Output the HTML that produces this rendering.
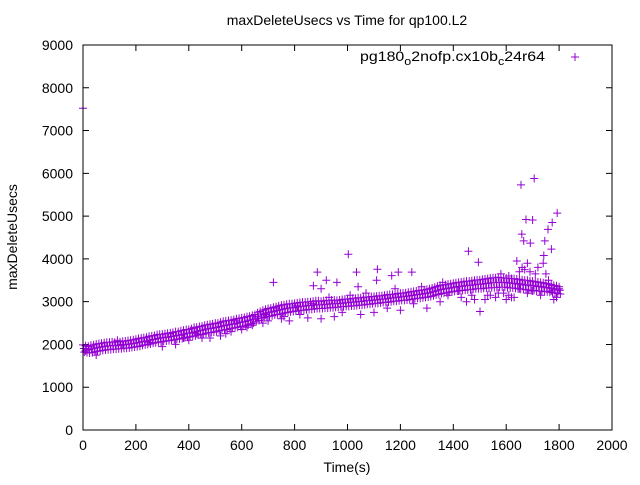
<!DOCTYPE html>
<html><head><meta charset="utf-8"><style>
html,body{margin:0;padding:0;background:#fff;}
svg text{font-family:"Liberation Sans",sans-serif;font-size:14px;fill:#000;}
</style></head><body>
<svg id="chart" width="640" height="480" xmlns="http://www.w3.org/2000/svg">
<rect width="640" height="480" fill="#fff"/>
<text x="347" y="25" text-anchor="middle">maxDeleteUsecs vs Time for qp100.L2</text>
<text x="347" y="472" text-anchor="middle">Time(s)</text>
<text transform="translate(17,237) rotate(-90)" text-anchor="middle">maxDeleteUsecs</text>
<g id="axes"></g>
<g id="marks"></g>
<g>
<text x="360" y="61" font-size="15" textLength="185" lengthAdjust="spacingAndGlyphs">pg180<tspan font-size="11" dy="4">o</tspan><tspan dy="-4">2nofp.cx10b</tspan><tspan font-size="11" dy="4">c</tspan><tspan dy="-4">24r64</tspan></text>
<path d="M571,57h8M575,53v8" stroke="#9400d3" stroke-width="1"/>
</g>
<rect x="83" y="45" width="529" height="385" fill="none" stroke="#000" stroke-width="1"/>
</svg>
<script>
const xTicks=[0,200,400,600,800,1000,1200,1400,1600,1800,2000];
const yTicks=[0,1000,2000,3000,4000,5000,6000,7000,8000,9000];
const hiV=[1990,1970,1960,1980,1990,2010,2020,2030,2040,2050,
2050,2060,2050,2070,2060,2070,2080,2090,2100,2110,
2120,2140,2150,2160,2170,2190,2200,2210,2230,2240,
2240,2250,2260,2270,2280,2300,2300,2320,2330,2350,
2350,2370,2380,2400,2420,2430,2450,2460,2470,2480,
2490,2500,2520,2540,2550,2560,2570,2580,2600,2610,
2620,2630,2650,2660,2680,2700,2740,2770,2800,2820,
2840,2850,2870,2880,2900,2920,2930,2940,2950,2950,
2960,2970,2980,2990,2990,3000,3000,3010,3020,3020,
3010,3020,3030,3030,3040,3040,3030,3040,3050,3060,
3060,3070,3080,3080,3090,3090,3100,3110,3110,3120,
3120,3130,3140,3140,3150,3160,3170,3170,3180,3190,
3200,3200,3210,3220,3230,3240,3250,3260,3270,3280,
3290,3300,3320,3340,3360,3380,3390,3400,3410,3420,
3430,3440,3450,3460,3470,3480,3480,3490,3500,3510,
3510,3520,3530,3540,3550,3560,3560,3570,3560,3560,
3550,3550,3540,3540,3530,3520,3510,3500,3500,3490,
3480,3470,3460,3450,3440,3430,3420,3400,3380,3370,3350];
const loV=[1820,1810,1800,1810,1830,1840,1850,1860,1870,1880,
1880,1890,1890,1900,1900,1910,1910,1920,1930,1940,
1950,1960,1980,1990,2000,2010,2030,2040,2050,2060,
2070,2080,2090,2100,2110,2120,2130,2140,2160,2170,
2180,2190,2200,2220,2230,2240,2260,2270,2280,2290,
2300,2320,2330,2340,2350,2370,2380,2390,2400,2420,
2430,2440,2460,2480,2500,2530,2560,2600,2630,2650,
2660,2670,2690,2700,2710,2720,2740,2750,2760,2770,
2780,2790,2800,2800,2810,2820,2820,2830,2840,2840,
2840,2850,2850,2860,2860,2870,2870,2880,2880,2890,
2890,2900,2900,2910,2920,2920,2930,2940,2940,2950,
2960,2960,2970,2980,2980,2990,3000,3010,3010,3020,
3030,3030,3040,3050,3060,3070,3080,3080,3090,3100,
3110,3120,3140,3160,3170,3190,3200,3210,3220,3230,
3240,3250,3260,3260,3270,3280,3280,3290,3300,3300,
3300,3310,3320,3320,3330,3330,3330,3340,3340,3340,
3330,3320,3320,3310,3300,3290,3290,3280,3270,3260,
3260,3250,3250,3240,3230,3230,3220,3210,3200,3190,3180];
const outT=[0,720,886,1003,871,1034,1113,1192,1243,1167,1457,1495,1656,1706,1675,1700,1793,1774,1758,1659,1666,1691,1746,1771,1742,1501,
1600,1620,1560,1520,1480,1450,1300,1200,1100,1050,950,900,850,780,750,700,680,600,560,520,480,450,400,350,300,50,10,
1640,1650,1660,1670,1680,1690,1710,1720,1740,1750,1760,1780,1790,1800,1650,1700,900,920,960,1040,1110,1380,1420,
1530,1570,1610,1630,1350,1250,1150,980,820,760,640,620,540,430,380,250,150,1430,1470,1540,1590,1680,1730,1770,1610,1580,1360,1280,1180,1070,1010,930,870,810,730,690,660,580,500,460,420,330,230,130,30];
const outV=[7520,3450,3690,4110,3370,3690,3760,3690,3690,3610,4180,3920,5730,5880,4920,4910,5070,4850,4690,4580,4420,4370,4420,4230,4080,2770,
3050,3100,3100,3050,3050,3000,2850,2800,2750,2700,2650,2600,2620,2550,2600,2550,2500,2350,2300,2200,2150,2150,2100,2000,1950,1750,1850,
3950,3700,3800,3750,3900,3700,3650,3800,3900,3650,3500,3050,3100,3300,3300,3250,3300,3500,3450,3350,3500,3150,3250,
3150,3200,3150,3100,3000,2950,2850,2750,2700,2650,2450,2400,2250,2250,2150,2050,2000,3100,3150,3150,3200,3200,3150,3250,3600,3650,3450,3350,3300,3200,3150,3100,2950,2900,2850,2700,2650,2550,2500,2450,2400,2250,2150,2100,1950];
const X0=83,X1=612,Y0=430,Y1=45;
const xs=t=>X0+(t-0)/2000*(X1-X0);
const ys=v=>Y0-(v-0)/9000*(Y0-Y1);
const NS="http://www.w3.org/2000/svg";
const axes=document.getElementById('axes');
const marks=document.getElementById('marks');
function mk(tag,parent){const e=document.createElementNS(NS,tag);parent.appendChild(e);return e;}
xTicks.forEach(t=>{
  const p=mk('path',axes);
  
  
  const x=xs(t);
  p.setAttribute('d',`M${x},${Y0}v-6M${x},${Y1}v6`);
  p.setAttribute('stroke','#000');
  const tx=mk('text',axes);
  
  
  tx.setAttribute('x',x);tx.setAttribute('y',Y0+20);tx.setAttribute('text-anchor','middle');
  tx.textContent=t;
});
yTicks.forEach(v=>{
  const p=mk('path',axes);
  
  
  const y=ys(v);
  p.setAttribute('d',`M${X0},${y}h6M${X1},${y}h-6`);
  p.setAttribute('stroke','#000');
  const tx=mk('text',axes);
  
  
  tx.setAttribute('x',X0-10);tx.setAttribute('y',y+5);tx.setAttribute('text-anchor','end');
  tx.textContent=v;
});
let d='';
function plus(t,v){const x=xs(t),y=ys(v);if(x<X0-1||x>X1||y<Y1||y>Y0)return;d+=`M${(x-4).toFixed(1)},${y.toFixed(1)}h8M${x.toFixed(1)},${(y-4).toFixed(1)}v8`;}
for(let i=0;i<hiV.length;i++){const t=i*10;plus(t,hiV[i]);plus(t+5,loV[i]);plus(t+3,(hiV[i]+loV[i])/2);}
for(let i=0;i<outT.length;i++)plus(outT[i],outV[i]);
const pts=mk('path',marks);


pts.setAttribute('d',d);
pts.setAttribute('stroke','#9400d3');
pts.setAttribute('stroke-width','1');
pts.setAttribute('fill','none');
</script>
</body></html>
